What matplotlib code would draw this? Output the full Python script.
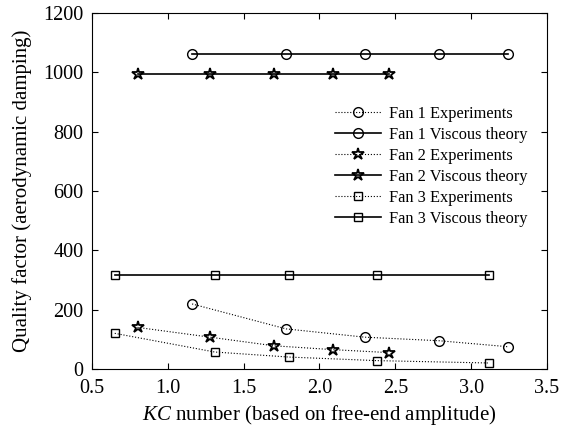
import matplotlib
matplotlib.use('Agg')
import matplotlib.pyplot as plt

plt.rcParams['font.family'] = ['Liberation Serif', 'DejaVu Serif']
plt.rcParams['mathtext.fontset'] = 'custom'
plt.rcParams['mathtext.it'] = 'Liberation Serif:italic'

# data
fan1_kc = [1.16, 1.78, 2.30, 2.79, 3.24]
fan1_exp = [219, 135, 107, 95, 75]
fan1_visc = [1062, 1062, 1062, 1062, 1062]

fan2_kc = [0.80, 1.28, 1.70, 2.09, 2.46]
fan2_exp = [140, 107, 78, 65, 55]
fan2_visc = [993, 993, 993, 993, 993]

fan3_kc = [0.65, 1.31, 1.80, 2.38, 3.12]
fan3_exp = [120, 57, 40, 28, 20]
fan3_visc = [315, 315, 315, 315, 315]

fig, ax = plt.subplots(figsize=(5.61, 4.29), dpi=100)

mk = dict(color='black', markerfacecolor='none', markeredgecolor='black', markersize=7, markeredgewidth=1)
star = {**mk, 'markersize': 9, 'markeredgewidth': 1.3}
ax.plot(fan1_kc, fan1_exp, ':', marker='o', lw=0.8, label='Fan 1 Experiments', **mk)
ax.plot(fan1_kc, fan1_visc, '-', marker='o', lw=1.2, label='Fan 1 Viscous theory', **mk)
ax.plot(fan2_kc, fan2_exp, ':', marker='*', lw=0.8, label='Fan 2 Experiments', **star)
ax.plot(fan2_kc, fan2_visc, '-', marker='*', lw=1.2, label='Fan 2 Viscous theory', **star)
ax.plot(fan3_kc, fan3_exp, ':', marker='s', lw=0.8, label='Fan 3 Experiments', **{**mk, 'markersize': 6})
ax.plot(fan3_kc, fan3_visc, '-', marker='s', lw=1.2, label='Fan 3 Viscous theory', **{**mk, 'markersize': 6})

ax.set_xlim(0.5, 3.5)
ax.set_ylim(0, 1200)
ax.set_xticks([0.5, 1, 1.5, 2, 2.5, 3, 3.5])
ax.set_xticklabels(['0.5', '1.0', '1.5', '2.0', '2.5', '3.0', '3.5'])
ax.set_yticks(range(0, 1201, 200))
ax.tick_params(direction='in', top=True, right=True, labelsize=14.5, length=4)
ax.tick_params(axis='x', pad=7)
ax.tick_params(axis='y', pad=6)
ax.set_xlabel(r'$KC$ number (based on free-end amplitude)', fontsize=15, labelpad=4)
ax.set_ylabel('Quality factor (aerodynamic damping)', fontsize=15, labelpad=8)

leg = ax.legend(loc='upper right', bbox_to_anchor=(0.99, 0.78), frameon=False, fontsize=11.8,
                handlelength=2.8, handletextpad=0.5, labelspacing=0.3)

plt.subplots_adjust(left=0.164, right=0.975, top=0.97, bottom=0.14)
fig.savefig('out.png', dpi=100)
